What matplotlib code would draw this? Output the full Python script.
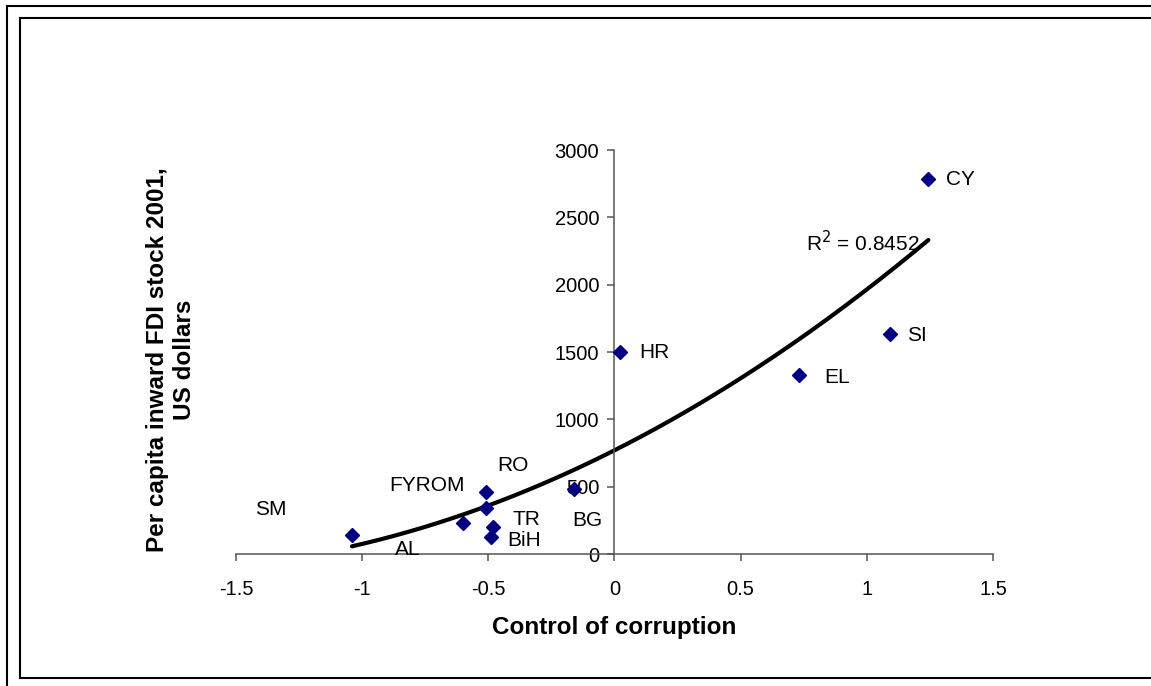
import numpy as np
import matplotlib
matplotlib.use("Agg")
import matplotlib.pyplot as plt
from matplotlib.lines import Line2D

plt.rcParams['font.family'] = ['Liberation Sans', 'DejaVu Sans']
plt.rcParams['axes.unicode_minus'] = False

# Data
countries = ['SM', 'AL', 'FYROM', 'RO', 'TR', 'BiH', 'BG', 'HR', 'EL', 'SI', 'CY']
corruption = [-1.04, -0.60, -0.51, -0.51, -0.48, -0.49, -0.16, 0.02, 0.73, 1.09, 1.244]
fdi_stock = [142, 229, 343, 463, 199, 129, 483, 1500, 1329, 1634, 2782]

x_ticks = [-1.5, -1, -0.5, 0, 0.5, 1, 1.5]
y_ticks = [0, 500, 1000, 1500, 2000, 2500, 3000]
r2_text = 'R$^2$ = 0.8452'

# Where the data labels sit (left edge, vertical centre), in data units
label_pos = {
    'SM': (-1.425, 327), 'AL': (-0.871, 30), 'FYROM': (-0.894, 512),
    'RO': (-0.463, 661), 'TR': (-0.404, 260), 'BiH': (-0.423, 104),
    'BG': (-0.166, 252), 'HR': (0.099, 1500), 'EL': (0.831, 1314),
    'SI': (1.159, 1626), 'CY': (1.314, 2784),
}

fig = plt.figure(figsize=(11.51, 6.86), dpi=100)
ax = fig.add_axes([0.205, 0.1924, 0.6577, 0.5889])

ax.plot(corruption, fdi_stock, linestyle='none', marker='D', markersize=7,
        color='#000080', zorder=3)

# second order polynomial trendline
coef = np.polyfit(corruption, fdi_stock, 2)
xs = np.linspace(min(corruption), max(corruption), 200)
ax.plot(xs, np.polyval(coef, xs), color='black', linewidth=3, zorder=2,
        solid_capstyle='round')

for name in countries:
    px, py = label_pos[name]
    ax.text(px, py, name, fontsize=15, ha='left', va='center')
ax.text(0.760, 2309, r2_text, fontsize=15, ha='left', va='center')

ax.set_xlim(-1.5, 1.5)
ax.set_ylim(0, 3000)
ax.set_xticks(x_ticks)
ax.set_xticklabels(['-1.5', '-1', '-0.5', '0', '0.5', '1', '1.5'])
ax.set_yticks(y_ticks)
ax.spines['top'].set_visible(False)
ax.spines['right'].set_visible(False)
ax.spines['left'].set_position(('data', 0))
for s in ('left', 'bottom'):
    ax.spines[s].set_color('#555555')
    ax.spines[s].set_linewidth(1.1)
ax.tick_params(direction='out', length=5, width=1.1, color='#555555',
               labelsize=14.5)
ax.tick_params(axis='x', pad=14)
ax.tick_params(axis='y', pad=6)

ax.set_xlabel('Control of corruption', fontsize=17.5, fontweight='bold', labelpad=12)
fig.text(171 / 1151, 1 - 360 / 686, 'Per capita inward FDI stock 2001,\nUS dollars',
         rotation=90, ha='center', va='center', multialignment='center',
         fontsize=17.5, fontweight='bold', linespacing=1.2)

# frames around the chart
W, H = 1151, 686
def px_line(x0, y0, x1, y1):
    fig.add_artist(Line2D([x0 / W, x1 / W], [1 - y0 / H, 1 - y1 / H],
                          color='black', linewidth=1.5, transform=fig.transFigure))

px_line(7, 6, W, 6)
px_line(7, 6, 7, H)
px_line(20, 18, W, 18)
px_line(20, 18, 20, 678)
px_line(20, 678, W, 678)

fig.savefig('out.png', dpi=100)
